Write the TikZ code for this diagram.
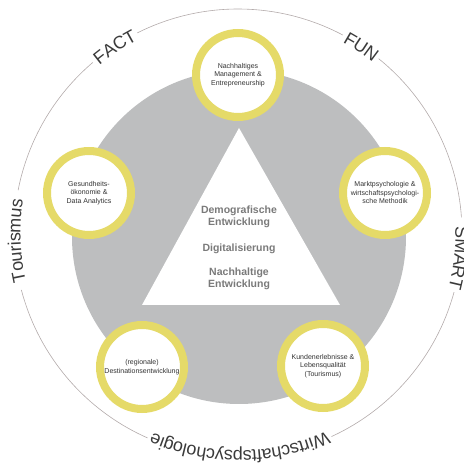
\documentclass[tikz,border=0pt]{standalone}
\usepackage{fontspec}
\setmainfont{Liberation Sans}
\usetikzlibrary{decorations.text}
\definecolor{ringyellow}{HTML}{E5DA68}
\definecolor{discgray}{HTML}{BDBEBF}
\definecolor{titlegray}{HTML}{7A7A7A}
\definecolor{linegray}{HTML}{B3ABAB}
\definecolor{wordgray}{HTML}{3A3A3A}
\begin{document}
\begin{tikzpicture}[x=1pt, y=1pt,
                topic/.style = {draw=ringyellow, line width=8pt, fill=white, circle, inner sep=0pt, minimum size=84pt, align=center, text=black!80, font=\fontsize{7}{8.5}\selectfont},
                theme/.style = {align=center, text=titlegray, font=\bfseries\fontsize{10.5}{11.5}\selectfont},
                ring/.style = {draw=linegray, line width=0.6pt},
                word/.style = {decorate, decoration={text along path, text align=center, raise=-6.5pt, text color=wordgray, text={|\fontsize{18}{18}\selectfont|#1}}},
            ]
            \useasboundingbox (0,0) rectangle (464,463);
            \coordinate (c) at (238,230);

            \fill[discgray] (239,226) circle[radius=167];
            \fill[white] (239,335) -- (142,158) -- (340,158) -- cycle;

            \node (demo) [theme] at (239,246) {Demografische\\Entwicklung};
            \node (digi) [theme] at (239,214) {Digitalisierung};
            \node (nach) [theme] at (239,184) {Nachhaltige\\Entwicklung};

            \node (mgmt) [topic] at (238,388) {Nachhaltiges\\Management \&\\Entrepreneurship};
            \node (gesund) [topic] at (89,270) {Gesundheits-\\ökonomie \&\\Data Analytics};
            \node (markt) [topic] at (385,270) {Marktpsychologie \&\\wirtschaftspsychologi-\\sche Methodik};
            \node (region) [topic] at (142,96) {(regionale)\\Destinationsentwicklung};
            \node (kunde) [topic] at (323,97) {Kundenerlebnisse \&\\Lebensqualität\\(Tourismus)};

            \foreach \a/\b in {116.7/62.1, 51.1/4, -15.3/-65.3, -113.8/-165.3, 169/130.4}
                \draw[ring, shift={(c)}] (\a:224) arc[start angle=\a, end angle=\b, radius=224];

            \path[word=FACT, shift={(c)}] (143:224) arc[start angle=143, end angle=104, radius=224];
            \path[word=FUN, shift={(c)}] (76:224) arc[start angle=76, end angle=37, radius=224];
            \path[word=SMART, shift={(c)}] (14:224) arc[start angle=14, end angle=-27, radius=224];
            \path[word=Wirtschaftspsychologie, shift={(c)}] (-55:224) arc[start angle=-55, end angle=-124, radius=224];
            \path[word=Tourismus, shift={(c)}] (206:224) arc[start angle=206, end angle=158, radius=224];
        \end{tikzpicture}
\end{document}
